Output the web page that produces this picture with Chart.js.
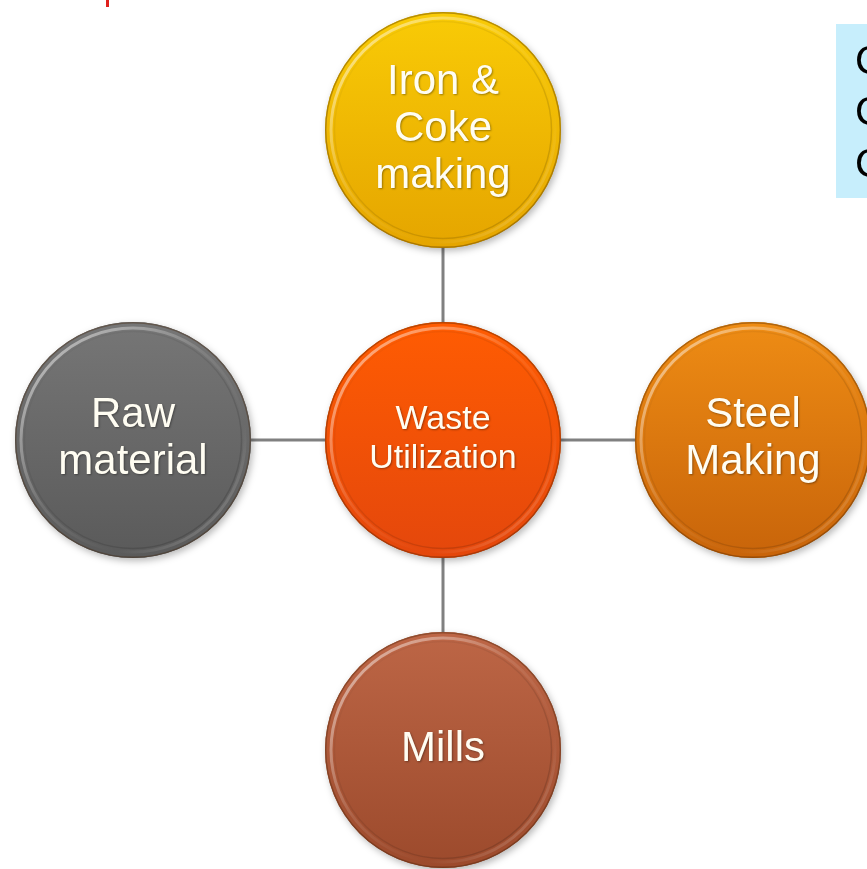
<!DOCTYPE html>
<html>
<head>
<meta charset="utf-8">
<style>
  html, body { margin: 0; padding: 0; background: #ffffff; }
  #wrap { width: 867px; height: 869px; position: relative; }
</style>
<script src="https://cdn.jsdelivr.net/npm/chart.js@4/dist/chart.umd.min.js"></script>
</head>
<body>
<div id="wrap"><canvas id="c" width="867" height="869"></canvas></div>
<script>
// ---- Data (diagram grid positions, labels, colours) ----
const nodeLabels = ['Waste\nUtilization', 'Iron &\nCoke\nmaking', 'Raw\nmaterial', 'Steel\nMaking', 'Mills'];
const nodeX = [0, 0, -1, 1, 0];
const nodeY = [0, 1, 0, 0, -1];
const nodeTop = ['#ff5c02', '#f9cb06', '#767676', '#ee8c14', '#bd6646'];
const nodeBottom = ['#e4470c', '#e5a500', '#5a5a5a', '#c8640a', '#9c4a2c'];
const nodeFontSize = [34, 42, 42, 42, 42];
const nodeLineHeight = [39, 47, 47, 47, 47];
const sideBoxLines = ['C', 'C', 'C'];

const RADIUS = 118;

const nodePoints = nodeX.map((x, i) => ({ x: x, y: nodeY[i] }));
const connectorSets = [1, 2, 3, 4].map(i => ({
  type: 'line',
  data: [nodePoints[0], nodePoints[i]],
  showLine: true,
  borderColor: '#808080',
  borderWidth: 3,
  pointRadius: 0,
  fill: false,
  clip: false
}));

const decoPlugin = {
  id: 'deco',
  beforeDatasetsDraw(chart) {
    const ctx = chart.ctx;
    ctx.save();
    // small red mark at top
    ctx.fillStyle = '#e0201c';
    ctx.fillRect(106, 0, 3, 7);
    // light blue side box
    ctx.fillStyle = '#c7eefc';
    ctx.fillRect(836, 24, 40, 174);
    ctx.fillStyle = '#000000';
    ctx.font = '40px "Liberation Sans", Arial, sans-serif';
    ctx.textBaseline = 'alphabetic';
    ctx.textAlign = 'left';
    const bl = [74, 125, 177];
    sideBoxLines.forEach((t, i) => ctx.fillText(t, 855, bl[i]));
    ctx.restore();
  },
  afterDatasetsDraw(chart) {
    const ctx = chart.ctx;
    const meta = chart.getDatasetMeta(0);
    meta.data.forEach((el, i) => {
      const cx = el.x, cy = el.y, r = RADIUS;
      ctx.save();
      // body with shadow
      ctx.shadowColor = 'rgba(0,0,0,0.28)';
      ctx.shadowBlur = 7;
      ctx.shadowOffsetX = 2;
      ctx.shadowOffsetY = 3;
      const g = ctx.createLinearGradient(cx, cy - r, cx, cy + r);
      g.addColorStop(0, nodeTop[i]);
      g.addColorStop(1, nodeBottom[i]);
      ctx.beginPath();
      ctx.arc(cx, cy, r, 0, Math.PI * 2);
      ctx.fillStyle = g;
      ctx.fill();
      ctx.restore();

      ctx.save();
      // highlight ring
      const hg = ctx.createLinearGradient(cx - r, cy - r, cx + r, cy + r);
      hg.addColorStop(0, 'rgba(255,255,255,0.65)');
      hg.addColorStop(0.45, 'rgba(255,255,255,0.10)');
      hg.addColorStop(0.7, 'rgba(255,255,255,0.0)');
      hg.addColorStop(1, 'rgba(255,255,255,0.30)');
      ctx.beginPath();
      ctx.arc(cx, cy, r - 6, 0, Math.PI * 2);
      ctx.strokeStyle = hg;
      ctx.lineWidth = 3;
      ctx.stroke();
      // inner shadow ring (dark, lower right)
      const dg = ctx.createLinearGradient(cx - r, cy - r, cx + r, cy + r);
      dg.addColorStop(0, 'rgba(0,0,0,0.0)');
      dg.addColorStop(1, 'rgba(0,0,0,0.18)');
      ctx.beginPath();
      ctx.arc(cx, cy, r - 9.5, 0, Math.PI * 2);
      ctx.strokeStyle = dg;
      ctx.lineWidth = 1.5;
      ctx.stroke();
      // outer edge
      ctx.beginPath();
      ctx.arc(cx, cy, r - 0.7, 0, Math.PI * 2);
      ctx.strokeStyle = 'rgba(60,30,0,0.35)';
      ctx.lineWidth = 1.4;
      ctx.stroke();

      // label
      const lines = nodeLabels[i].split('\n');
      const lh = nodeLineHeight[i];
      ctx.font = nodeFontSize[i] + 'px "Liberation Sans", Arial, sans-serif';
      ctx.textAlign = 'center';
      ctx.textBaseline = 'middle';
      ctx.shadowColor = 'rgba(0,0,0,0.35)';
      ctx.shadowBlur = 2;
      ctx.shadowOffsetX = 1;
      ctx.shadowOffsetY = 1;
      ctx.fillStyle = '#fffdf2';
      const start = cy - (lines.length - 1) * lh / 2 - 1;
      lines.forEach((t, k) => ctx.fillText(t, cx, start + k * lh));
      ctx.restore();
    });
  }
};

new Chart(document.getElementById('c'), {
  type: 'scatter',
  data: {
    datasets: [
      {
        label: 'nodes',
        data: nodePoints,
        pointRadius: RADIUS,
        pointHoverRadius: RADIUS,
        backgroundColor: nodeTop,
        borderWidth: 0,
        clip: false
      },
      ...connectorSets
    ]
  },
  options: {
    responsive: false,
    animation: false,
    events: [],
    layout: { padding: 0, autoPadding: false },
    plugins: { legend: { display: false }, tooltip: { enabled: false } },
    scales: {
      x: { type: 'linear', display: false, min: -443 / 310, max: 424 / 310 },
      y: { type: 'linear', display: false, min: -429 / 310, max: 440 / 310 }
    }
  },
  plugins: [decoPlugin]
});
</script>
</body>
</html>
